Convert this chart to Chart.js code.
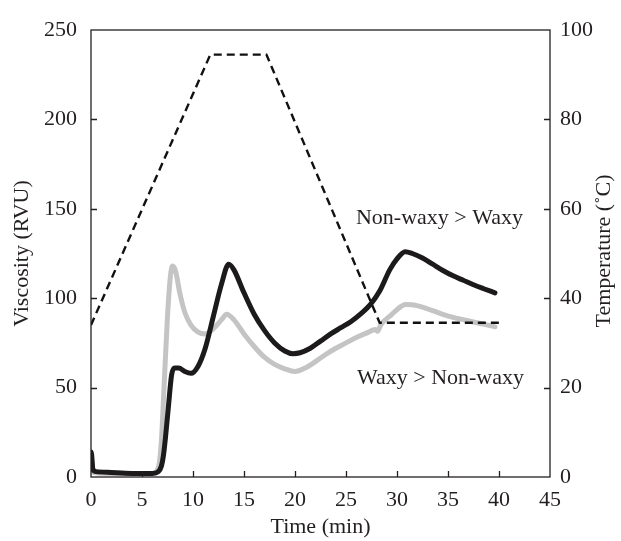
<!DOCTYPE html>
<html>
<head>
<meta charset="utf-8">
<script src="https://cdn.jsdelivr.net/npm/chart.js@4.4.1/dist/chart.umd.min.js"></script>
<style>
  html, body { margin: 0; padding: 0; background: #fff; }
  #wrap { width: 621px; height: 541px; }
</style>
</head>
<body>
<div id="wrap"><canvas id="rvaChart" width="621" height="541"></canvas></div>
<script>
// (min, RVU, degC)
const blackTime = [0, 0.05, 0.2, 0.5, 2, 4, 6, 6.6, 6.9, 7.1, 7.3, 7.6, 7.9, 8.2, 8.6, 9.2, 9.8, 10.5, 11.2, 12, 12.8, 13.5, 14, 15, 16, 17, 18, 19, 19.8, 20.5, 21.5, 22.5, 23.5, 24.5, 25.5, 26.5, 27.4, 28.3, 29.3, 30, 30.8, 31.5, 32.5, 33.5, 34.5, 35.5, 36.5, 37.5, 38.5, 39.6];
const blackVisc = [14, 13, 4, 3, 2.5, 2, 2, 3, 6, 12, 22, 40, 57, 61, 61, 59, 58, 62, 72, 90, 108, 119, 116, 103, 91, 82, 75, 70.5, 69, 69.5, 72, 76, 80, 83.5, 87, 91.5, 96.5, 104, 116, 122, 126, 125, 122.5, 119, 115.5, 112.5, 110, 107.5, 105.3, 103];

const grayTime = [0, 0.3, 2, 4, 6, 6.4, 6.7, 6.9, 7.2, 7.5, 7.8, 8.0, 8.3, 8.7, 9.2, 9.8, 10.5, 11.2, 12, 12.8, 13.3, 14, 15, 16, 17, 18, 19, 20, 21, 22, 23, 24, 25, 26, 27, 27.9, 28.1, 28.4, 29.5, 30.3, 30.8, 31.5, 32.5, 33.5, 34.5, 35.5, 36.5, 37.5, 38.5, 39.6];
const grayVisc = [3, 2.5, 2, 2, 2, 3, 8, 20, 55, 90, 113, 118, 115, 103, 92, 85, 81, 80, 83, 88, 91, 88, 80, 73, 67, 63, 60.5, 59, 61, 64.5, 68.5, 72, 75, 78, 80.5, 82.5, 81.5, 85, 91, 95, 96.5, 96.3, 95, 93, 91, 89.3, 88, 86.7, 85.5, 84];

const tempTime = [0, 11.7, 17.2, 28.3, 40];
const tempValues = [34, 94.5, 94.5, 34.5, 34.5];

const xTicks = [0, 5, 10, 15, 20, 25, 30, 35, 40, 45];
const viscTicks = [0, 50, 100, 150, 200, 250];
const tempTicks = [0, 20, 40, 60, 80, 100];

const labelHigh = 'Non-waxy > Waxy';
const labelLow = 'Waxy > Non-waxy';

const FONT = 'Liberation Serif';
const SIZE = 22;
const INK = '#231f20';

const toPoints = (xs, ys) => xs.map((x, i) => ({ x: x, y: ys[i] }));

// box, inward ticks, right title, text notes
const framePlugin = {
  id: 'frame',
  afterDraw(chart) {
    const { ctx, chartArea: a, scales } = chart;
    ctx.save();
    ctx.strokeStyle = INK;
    ctx.lineWidth = 1.3;
    ctx.strokeRect(a.left, a.top, a.right - a.left, a.bottom - a.top);
    ctx.beginPath();
    xTicks.slice(1, -1).forEach(v => {
      const px = Math.round(scales.x.getPixelForValue(v)) + 0.5;
      ctx.moveTo(px, a.bottom); ctx.lineTo(px, a.bottom - 6);
    });
    viscTicks.slice(1, -1).forEach(v => {
      const py = Math.round(scales.y.getPixelForValue(v)) + 0.5;
      ctx.moveTo(a.left, py); ctx.lineTo(a.left + 6, py);
    });
    tempTicks.slice(1, -1).forEach(v => {
      const py = Math.round(scales.y2.getPixelForValue(v)) + 0.5;
      ctx.moveTo(a.right, py); ctx.lineTo(a.right - 6, py);
    });
    ctx.stroke();

    ctx.fillStyle = INK;
    ctx.font = SIZE + 'px "' + FONT + '"';
    ctx.textBaseline = 'middle';
    ctx.textAlign = 'right';
    ctx.fillText(labelHigh, 523, 218);
    ctx.fillText(labelLow, 524, 378);

    ctx.translate(604, 251);
    ctx.rotate(-Math.PI / 2);
    ctx.textAlign = 'center';
    ctx.fillText('Temperature (˚C)', 0, 0);
    ctx.restore();
  }
};

new Chart(document.getElementById('rvaChart'), {
  type: 'line',
  data: {
    datasets: [
      {
        label: 'Temperature',
        data: toPoints(tempTime, tempValues),
        yAxisID: 'y2',
        borderColor: '#111',
        borderWidth: 2.4,
        borderDash: [8, 5],
        pointRadius: 0,
        tension: 0
      },
      {
        label: 'Non-waxy',
        data: toPoints(blackTime, blackVisc),
        yAxisID: 'y',
        borderColor: '#1c1a1b',
        borderWidth: 5,
        pointRadius: 0,
        cubicInterpolationMode: 'monotone',
        borderCapStyle: 'round',
        borderJoinStyle: 'round'
      },
      {
        label: 'Waxy',
        data: toPoints(grayTime, grayVisc),
        yAxisID: 'y',
        borderColor: '#c4c4c4',
        borderWidth: 5,
        pointRadius: 0,
        cubicInterpolationMode: 'monotone',
        borderCapStyle: 'round',
        borderJoinStyle: 'round'
      }
    ]
  },
  options: {
    responsive: false,
    animation: false,
    layout: { padding: { top: 30, left: 0, right: 0, bottom: 0 } },
    plugins: {
      legend: { display: false },
      tooltip: { enabled: false }
    },
    scales: {
      x: {
        type: 'linear',
        min: 0,
        max: 45,
        afterFit: s => { s.height = 64; },
        afterBuildTicks: s => { s.ticks = xTicks.map(v => ({ value: v })); },
        grid: { display: false, drawTicks: false },
        border: { display: false },
        ticks: { color: INK, font: { family: FONT, size: SIZE }, padding: 10, maxRotation: 0 },
        title: { display: true, text: 'Time (min)', color: INK, font: { family: FONT, size: SIZE }, padding: { top: 0, bottom: 1 } }
      },
      y: {
        position: 'left',
        min: 0,
        max: 250,
        afterFit: s => { s.width = 91; },
        afterBuildTicks: s => { s.ticks = viscTicks.map(v => ({ value: v })); },
        grid: { display: false, drawTicks: false },
        border: { display: false },
        ticks: { color: INK, font: { family: FONT, size: SIZE }, padding: 14 },
        title: { display: true, text: 'Viscosity (RVU)', color: INK, font: { family: FONT, size: SIZE }, padding: { top: 9, bottom: 0 } }
      },
      y2: {
        position: 'right',
        min: 0,
        max: 100,
        afterFit: s => { s.width = 71; },
        afterBuildTicks: s => { s.ticks = tempTicks.map(v => ({ value: v })); },
        grid: { display: false, drawTicks: false },
        border: { display: false },
        ticks: { color: INK, font: { family: FONT, size: SIZE }, padding: 10 }
      }
    }
  },
  plugins: [framePlugin]
});
</script>
</body>
</html>
